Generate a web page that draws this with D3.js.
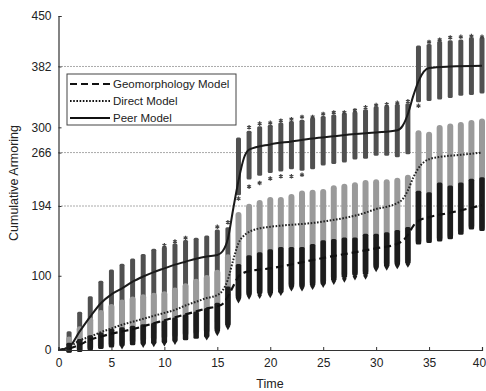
<!DOCTYPE html>
<html><head><meta charset="utf-8">
<script src="https://cdn.jsdelivr.net/npm/d3@7"></script>
<style>body{margin:0;background:#fff}svg{display:block}text{font-family:"Liberation Sans",Arial,sans-serif}</style>
</head><body><svg id="c" width="486" height="391"></svg>
<script>
// ---- data ----
const times = [1,2,3,4,5,6,7,8,9,10,11,12,13,14,15,16,17,18,19,20,21,22,23,24,25,26,27,28,29,30,31,32,33,34,35,36,37,38,39,40];
const peerHi = [22,48,69,90,105,113,120,126,133,136,140,145,148,151,159,162,283,292,298,300,303,305,307,310,312,314,316,318,321,325,326,328,329,407,409,413,414,415,418,418];
const peerLo = [0,2,6,10,14,17,20,22,25,28,30,32,34,36,40,45,212,233,238,242,244,247,245,247,252,254,256,260,261,265,265,263,267,337,339,341,343,346,347,349];
const peerStarHi = [null,null,null,null,null,null,null,null,null,141,146,151,null,null,166,172,null,300,305,306,309,311,314,314,318,320,320,323,327,330,331,333,335,null,415,418,421,422,423,422];
const peerStarLo = [null,null,null,null,null,null,null,null,null,null,null,null,null,null,null,null,204,220,225,231,234,234,236,null,null,null,null,null,null,null,null,null,null,329,null,null,null,null,null,null];
const directHi = [14,28,40,50,58,64,68,71,73,75,80,86,92,97,104,125,182,193,198,202,202,206,211,212,213,218,220,222,225,226,226,228,232,292,290,299,301,303,306,308];
const directLo = [0,2,4,6,9,11,13,15,17,19,21,23,25,27,30,37,74,79,81,81,83,90,90,92,94,99,103,106,107,116,118,120,122,148,150,152,155,161,168,166];
const geoHi = [6,11,16,20,25,27,29,31,33,36,40,44,48,53,60,82,112,124,128,132,135,135,135,139,144,146,148,148,153,153,155,158,162,211,209,222,218,222,227,229];
const geoLo = [0,1,3,5,7,9,10,11,12,13,15,17,19,21,28,36,72,77,79,79,81,88,88,90,92,97,101,104,105,114,116,118,120,146,148,150,153,159,166,164];
const geoOutLo = [null,null,null,null,null,6,null,8,9,10,12,null,null,18,24,32,68,73,74,75,78,84,84,86,89,93,96,99,100,110,112,114,116,null,null,null,null,null,null,null];

const peerLineT = [0,1,2,3,4,5,6,7,8,9,10,11,12,13,14,15,15.5,16,16.5,17,17.5,18,20,22,24,26,28,30,32,32.5,33,33.5,34,34.5,35,37,40];
const peerLineV = [0,4,25,45,63,75,83,92,99,105,110,115,119,123,126,128,133,150,190,228,258,270,277,281,285,288,291,293,296,302,318,342,362,375,380,382,383];
const directLineT = [0,1,2,3,4,5,6,7,8,9,10,11,12,13,14,15,15.5,16,16.5,17,17.5,18,19,20,25,29,30,31,32,32.5,33,33.5,34,34.5,35,36,38,40];
const directLineV = [0,4,13,18,24,29,34,38,42,46,50,54,60,65,70,74,80,95,121,144,154,159,164,166,173,185,190,193,198,203,215,232,245,253,257,260,263,266];
const geoLineT = [0,1,2,3,4,5,6,7,8,9,10,11,12,13,14,15,15.5,16,16.5,17,17.5,18,20,25,30,32,32.5,33,33.5,34,35,37,40];
const geoLineV = [0,2,7,14,18,22,25,28,32,36,40,44,48,52,56,59,62,72,86,99,104,106,110,124,137,143,147,155,167,174,179,185,195];

const yTicks = [0,100,194,266,300,382,450];
const xTicks = [0,5,10,15,20,25,30,35,40];
const refLines = [194,266,382];
const legendItems = [
  {name:"Geomorphology Model", dash:"7,4", w:2.2},
  {name:"Direct Model", dash:"1.6,1.6", w:2},
  {name:"Peer Model", dash:null, w:2}
];

// ---- chart ----
const svg = d3.select("#c");
const x = d3.scaleLinear().domain([0,40]).range([58.5,482]);
const y = d3.scaleLinear().domain([0,450]).range([350,16]);

// reference dotted lines
svg.selectAll(".ref").data(refLines).join("line")
  .attr("x1",x(0)).attr("x2",x(40)).attr("y1",d=>y(d)).attr("y2",d=>y(d))
  .attr("stroke","#555").attr("stroke-width",1).attr("stroke-dasharray","1,2");

const idx = times.map((t,i)=>i);
function columns(hi, lo, w, color, rx){
  svg.append("g").selectAll("rect").data(idx).join("rect")
    .attr("x", i=>x(times[i])-w/2).attr("width", w)
    .attr("y", i=>y(hi[i])-w/2).attr("height", i=>y(lo[i])-y(hi[i])+w)
    .attr("rx", rx).attr("fill", color);
}
// peer (asterisks)
columns(peerHi, peerLo, 5, "#505050", 1.5);
const star = d3.symbol().type(d3.symbolAsterisk).size(14);
const starPts = idx.filter(i=>peerStarHi[i]!=null).map(i=>[times[i],peerStarHi[i]])
  .concat(idx.filter(i=>peerStarLo[i]!=null).map(i=>[times[i],peerStarLo[i]]));
svg.append("g").selectAll("path").data(starPts).join("path")
  .attr("d", star).attr("transform", d=>`translate(${x(d[0])},${y(d[1])})`)
  .attr("fill","none").attr("stroke","#444").attr("stroke-width",1.2);
// direct (circles)
columns(directHi, directLo, 6, "#9a9a9a", 3);
// geomorphology (diamonds)
columns(geoHi, geoLo, 5.5, "#1c1c1c", 1.5);
const dia = d3.symbol().type(d3.symbolDiamond).size(18);
svg.append("g").selectAll("path").data(idx.filter(i=>geoOutLo[i]!=null)).join("path")
  .attr("d", dia).attr("transform", i=>`translate(${x(times[i])},${y(geoOutLo[i])})`)
  .attr("fill","#1c1c1c");

// lines
const line = d3.line().x(d=>x(d[0])).y(d=>y(d[1])).curve(d3.curveMonotoneX);
const zip=(a,b)=>a.map((v,i)=>[v,b[i]]);
svg.append("path").attr("d", line(zip(geoLineT,geoLineV))).attr("fill","none")
  .attr("stroke","#111").attr("stroke-width",2.2).attr("stroke-dasharray","7,4");
svg.append("path").attr("d", line(zip(directLineT,directLineV))).attr("fill","none")
  .attr("stroke","#222").attr("stroke-width",2).attr("stroke-dasharray","1.6,1.6");
svg.append("path").attr("d", line(zip(peerLineT,peerLineV))).attr("fill","none")
  .attr("stroke","#1a1a1a").attr("stroke-width",2);

// axes
const yAxis = d3.axisLeft(y).tickValues(yTicks).tickSize(-3).tickPadding(7).tickFormat(d3.format("d"));
const gy = svg.append("g").attr("transform",`translate(${x(0)},0)`).call(yAxis);
const xAxis = d3.axisBottom(x).tickValues(xTicks).tickSize(-3).tickPadding(8).tickFormat(d3.format("d"));
const gx = svg.append("g").attr("transform",`translate(0,${y(0)})`).call(xAxis);
[gx,gy].forEach(g=>{
  g.select(".domain").attr("stroke","#333").attr("stroke-width",1.2);
  g.selectAll(".tick line").attr("stroke","#333");
  g.selectAll(".tick text").attr("font-size",12).attr("fill","#222")
   .style("font-family","'Liberation Sans',Arial,sans-serif");
});
gx.selectAll(".tick text").filter(d=>d===40).attr("dx",-3);
svg.append("text").attr("x",270).attr("y",388).attr("text-anchor","middle")
  .attr("font-size",12.5).attr("fill","#222").text("Time");
svg.append("text").attr("transform","translate(18,183) rotate(-90)").attr("text-anchor","middle")
  .attr("font-size",12.5).attr("fill","#222").text("Cumulative Armoring");

// legend
const lg = svg.append("g");
lg.append("rect").attr("x",67).attr("y",74).attr("width",169).attr("height",51)
  .attr("fill","#fff").attr("stroke","#444").attr("stroke-width",1);
legendItems.forEach((d,i)=>{
  const yy = 84 + i*17;
  lg.append("line").attr("x1",70).attr("x2",110).attr("y1",yy).attr("y2",yy)
    .attr("stroke","#111").attr("stroke-width",d.w).attr("stroke-dasharray",d.dash);
  lg.append("text").attr("x",113).attr("y",yy+4).attr("font-size",11.5).attr("fill","#222").text(d.name);
});
</script></body></html>
